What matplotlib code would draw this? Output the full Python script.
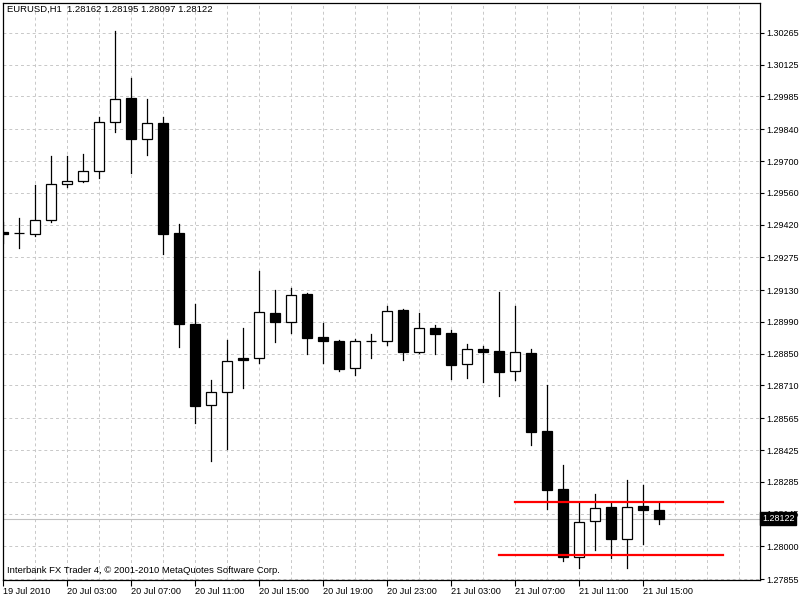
import matplotlib
matplotlib.use('Agg')
import matplotlib.pyplot as plt
from matplotlib.patches import Rectangle

plt.rcParams['font.family'] = ['Liberation Sans', 'DejaVu Sans']

# EURUSD H1 bars, 19 Jul 23:00 .. 21 Jul 16:00
opens = [1.29385, 1.29381, 1.29376, 1.29438, 1.29597, 1.29610, 1.29655, 1.29871,
         1.29977, 1.29796, 1.29866, 1.29381, 1.28981, 1.28622, 1.28683, 1.28830,
         1.28829, 1.29028, 1.28988, 1.29113, 1.28922, 1.28906, 1.28785, 1.28904,
         1.28904, 1.29042, 1.28858, 1.28962, 1.28941, 1.28805, 1.28870, 1.28861,
         1.28774, 1.28853, 1.28508, 1.28252, 1.27953, 1.28112, 1.28173, 1.28033,
         1.28177, 1.28162]
highs = [1.29431, 1.29447, 1.29594, 1.29722, 1.29722, 1.29731, 1.29894, 1.30273,
         1.30065, 1.29972, 1.29894, 1.29421, 1.29069, 1.28733, 1.28910, 1.28962,
         1.29213, 1.29129, 1.29138, 1.29117, 1.28985, 1.28910, 1.28913, 1.28936,
         1.29060, 1.29047, 1.29029, 1.28976, 1.28953, 1.28892, 1.28882, 1.29122,
         1.29060, 1.28870, 1.28711, 1.28358, 1.28192, 1.28230, 1.28192, 1.28292,
         1.28270, 1.28195]
lows = [1.29338, 1.29317, 1.29369, 1.29432, 1.29587, 1.29608, 1.29626, 1.29829,
        1.29648, 1.29728, 1.29290, 1.28880, 1.28545, 1.28376, 1.28429, 1.28697,
        1.28811, 1.28902, 1.28942, 1.28849, 1.28810, 1.28774, 1.28757, 1.28832,
        1.28889, 1.28823, 1.28854, 1.28848, 1.28737, 1.28742, 1.28725, 1.28663,
        1.28733, 1.28448, 1.28165, 1.27936, 1.27904, 1.27983, 1.27948, 1.27904,
        1.28010, 1.28097]
closes = [1.29380, 1.29383, 1.29438, 1.29597, 1.29610, 1.29655, 1.29871, 1.29972,
          1.29796, 1.29866, 1.29379, 1.28979, 1.28620, 1.28682, 1.28820, 1.28823,
          1.29032, 1.28988, 1.29107, 1.28920, 1.28904, 1.28783, 1.28904, 1.28904,
          1.29037, 1.28858, 1.28962, 1.28938, 1.28800, 1.28869, 1.28858, 1.28770,
          1.28857, 1.28505, 1.28249, 1.27953, 1.28110, 1.28171, 1.28033, 1.28176,
          1.28160, 1.28122]

time_labels = ['19 Jul 2010', '20 Jul 03:00', '20 Jul 07:00', '20 Jul 11:00',
               '20 Jul 15:00', '20 Jul 19:00', '20 Jul 23:00', '21 Jul 03:00',
               '21 Jul 07:00', '21 Jul 11:00', '21 Jul 15:00']
price_ticks = [1.30265, 1.30125, 1.29985, 1.29840, 1.29700, 1.29560, 1.29420,
               1.29275, 1.29130, 1.28990, 1.28850, 1.28710, 1.28565, 1.28425,
               1.28285, 1.28145, 1.28000, 1.27855]

resistance = 1.28195
support = 1.27962
last_price = closes[-1]

fig = plt.figure(figsize=(8, 6), dpi=100)
ax = fig.add_axes([3 / 800, 20 / 600, 757 / 800, 577 / 600])

n = len(opens)
ax.set_xlim(0, 757 / 16)
ax.set_ylim(1.27852, 1.30397)

# grid
grid_kw = dict(color='#c8c8c8', lw=0.7, ls=(0, (3, 3)), zorder=0)
for p in price_ticks:
    ax.axhline(p, **grid_kw)
for g in range(2, 48, 2):
    ax.axvline(g, **grid_kw)

ax.axhline(last_price, color='#c0c0c0', lw=0.8, zorder=1)

# candles
w = 0.62
for i in range(n):
    o, h, l, c = opens[i], highs[i], lows[i], closes[i]
    ax.plot([i, i], [l, h], color='black', lw=0.9, zorder=2)
    face = 'white' if c >= o else 'black'
    ax.add_patch(Rectangle((i - w / 2, min(o, c)), w, abs(c - o),
                           facecolor=face, edgecolor='black', lw=0.9, zorder=3))

# support / resistance
ax.plot([32, 45], [resistance, resistance], color='red', lw=1.6, zorder=4)
ax.plot([31, 45], [support, support], color='red', lw=1.6, zorder=4)

ax.set_xticks(range(0, 44, 4))
ax.set_xticklabels(time_labels, ha='left')
ax.set_yticks(price_ticks)
ax.set_yticklabels(['%.5f' % p for p in price_ticks])
ax.yaxis.tick_right()
ax.tick_params(axis='x', length=4, pad=1, labelsize=6.6, width=0.8)
ax.tick_params(axis='y', length=3, pad=1.5, labelsize=6.5, width=0.8)
for s in ax.spines.values():
    s.set_linewidth(0.9)

ax.annotate('%.5f' % last_price, xy=(1.0025, last_price),
            xycoords=('axes fraction', 'data'), va='center', ha='left',
            fontsize=6.5, color='white', zorder=10, annotation_clip=False,
            bbox=dict(boxstyle='square,pad=0.2', fc='black', ec='black'))

ax.text(0.005, 0.9885, 'EURUSD,H1  1.28162 1.28195 1.28097 1.28122',
        transform=ax.transAxes, fontsize=6.8, va='center', ha='left')
ax.text(0.005, 0.008, 'Interbank FX Trader 4, \u00a9 2001-2010 MetaQuotes Software Corp.',
        transform=ax.transAxes, fontsize=6.8, va='bottom', ha='left')

fig.savefig('out.png', dpi=100)
